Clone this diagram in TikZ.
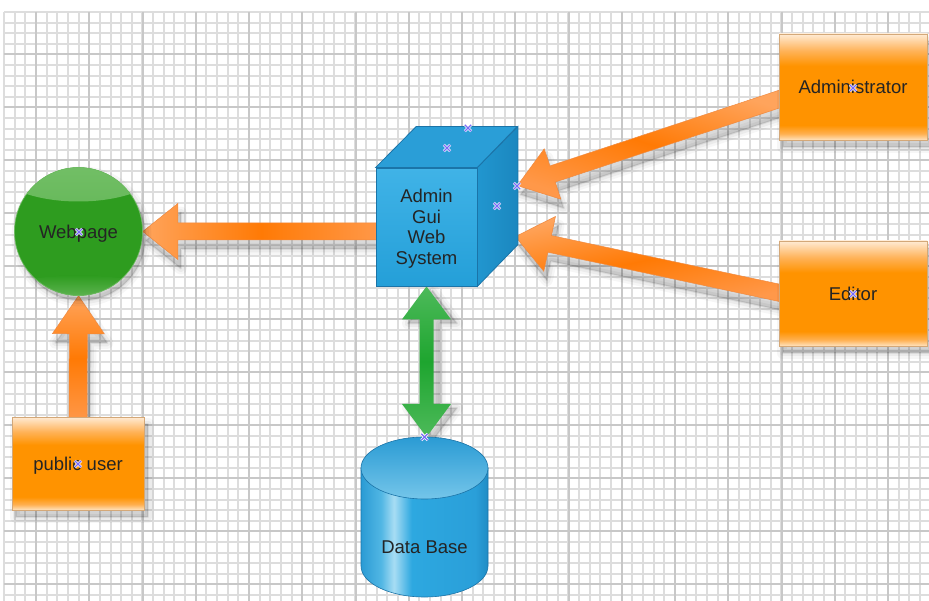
\documentclass[tikz,border=0pt]{standalone}
\usepackage{fontspec}
\setmainfont{Liberation Sans}
\usetikzlibrary{calc,shadows}

\definecolor{gridminor}{HTML}{DDDDDD}
\definecolor{gridmajor}{HTML}{C8C8C8}
\definecolor{ink}{HTML}{242424}
\definecolor{orA}{HTML}{FFA45C}
\definecolor{orB}{HTML}{FF7A05}
\definecolor{orC}{HTML}{FF9849}
\definecolor{orEdge}{HTML}{F08A40}
\definecolor{boxTop}{HTML}{FFEBD4}
\definecolor{boxTopB}{HTML}{FFB257}
\definecolor{boxMid}{HTML}{FF9300}
\definecolor{boxBot}{HTML}{FFE3C0}
\definecolor{boxBotB}{HTML}{FFB050}
\definecolor{boxEdge}{HTML}{D4A878}
\definecolor{webMain}{HTML}{2E9C1F}
\definecolor{webLight}{HTML}{7CC470}
\definecolor{webLightB}{HTML}{4FAC42}
\definecolor{webRim}{HTML}{6EBB62}
\definecolor{cubeFrontT}{HTML}{40B3E7}
\definecolor{cubeFrontB}{HTML}{249FD8}
\definecolor{cubeTop}{HTML}{2A9ED7}
\definecolor{cubeRightL}{HTML}{2196CF}
\definecolor{cubeRightR}{HTML}{1B87BF}
\definecolor{cubeEdge}{HTML}{1B74A8}
\definecolor{cylA}{HTML}{2A9BD4}
\definecolor{cylB}{HTML}{52B7E4}
\definecolor{cylL}{HTML}{A8DDF4}
\definecolor{cylC}{HTML}{2DA8E0}
\definecolor{cylD}{HTML}{2A9FD9}
\definecolor{cylE}{HTML}{1F8CC5}
\definecolor{grA}{HTML}{4DBA5A}
\definecolor{grB}{HTML}{1EA52F}
\definecolor{handleC}{HTML}{7A6CF5}

% orange role boxes: glossy bands at top and bottom
\pgfdeclareverticalshading{boxshade}{100bp}{color(0bp)=(boxBot); color(25bp)=(boxBot); color(28bp)=(boxBotB); color(32bp)=(boxMid); color(60bp)=(boxMid); color(67bp)=(boxTopB); color(75bp)=(boxTop); color(100bp)=(boxTop)}
% database body: light reflection band on the left
\pgfdeclarehorizontalshading{cylbody}{100bp}{color(0bp)=(cylA); color(25bp)=(cylA); color(33bp)=(cylB); color(38bp)=(cylL); color(45bp)=(cylC); color(70bp)=(cylD); color(75bp)=(cylE); color(100bp)=(cylE)}

\pgfdeclarelayer{gridlayer}
\pgfdeclarelayer{arrowlayer}
\pgfsetlayers{gridlayer,arrowlayer,main}

% block arrow: style, tail, tip, shaft half width, head half width, head length
\newcommand\fatarrow[6]{%
  \coordinate (fa-hb) at ($(#3)!#6!(#2)$);
  \path[#1] ($(#2)!#4!90:(#3)$) -- ($(fa-hb)!#4!90:(#3)$) -- ($(fa-hb)!#5!90:(#3)$) -- (#3)
    -- ($(fa-hb)!#5!-90:(#3)$) -- ($(fa-hb)!#4!-90:(#3)$) -- ($(#2)!#4!-90:(#3)$) -- cycle;}
% double-headed block arrow: style, tip A, tip B, shaft half width, head half width, head length
\newcommand\fatdarrow[6]{%
  \coordinate (fd-a) at ($(#2)!#6!(#3)$);
  \coordinate (fd-b) at ($(#3)!#6!(#2)$);
  \path[#1] (#2) -- ($(fd-a)!#5!90:(#3)$) -- ($(fd-a)!#4!90:(#3)$) -- ($(fd-b)!#4!90:(#3)$)
    -- ($(fd-b)!#5!90:(#3)$) -- (#3) -- ($(fd-b)!#5!-90:(#3)$) -- ($(fd-b)!#4!-90:(#3)$)
    -- ($(fd-a)!#4!-90:(#3)$) -- ($(fd-a)!#5!-90:(#3)$) -- cycle;}

\tikzset{
  % soft shadow built from stacked translucent copies
  softshadow/.style n args={2}{
    drop shadow={shadow xshift=#1, shadow yshift=#2, fill=black, draw=black, line width=12pt, line join=round, opacity=0.035},
    drop shadow={shadow xshift=#1, shadow yshift=#2, fill=black, draw=black, line width=7pt, line join=round, opacity=0.045},
    drop shadow={shadow xshift=#1, shadow yshift=#2, fill=black, draw=black, line width=2pt, line join=round, opacity=0.07}},
  txt/.style={font=\fontsize{18.5}{20.5}\selectfont, text=ink, text depth=0pt},
  rolebox/.style={softshadow={4pt}{-7pt}, txt, rectangle, shade, shading=boxshade, draw=boxEdge,
    line width=0.8pt, inner sep=0pt},
  orangearrow/.style={softshadow={3pt}{-9pt}, shade, draw=orEdge, line width=0.5pt},
  greenarrow/.style={softshadow={6pt}{-4pt}, shade, top color=grA, bottom color=grA, middle color=grB},
  gridline/.style={line width=1.6pt},
}

\begin{document}
\begin{tikzpicture}[x=1pt,y=-1pt]
\useasboundingbox (0,0) rectangle (929,601);

% paper with a fine grid, lines snapped to whole units
\begin{pgfonlayer}{gridlayer}
  \fill[white] (0,0) rectangle (929,601);
  \foreach \i in {0,...,86}
    \draw[gridline, gridminor] ({round(4.05+10.65*\i)},12) -- ({round(4.05+10.65*\i)},601);
  \foreach \j in {0,...,55}
    \draw[gridline, gridminor] (4,{round(11.9+10.6*\j)}) -- (929,{round(11.9+10.6*\j)});
  \foreach \i in {0,...,16}
    \draw[gridline, gridmajor] ({round(36+53.25*\i)},12) -- ({round(36+53.25*\i)},601);
  \foreach \j in {0,...,10}
    \draw[gridline, gridmajor] (4,{round(54.3+53*\j)}) -- (929,{round(54.3+53*\j)});
\end{pgfonlayer}

% actors
\node[rolebox, minimum width=148, minimum height=106] (admin) at (853,87) {Administrator};
\node[rolebox, minimum width=148, minimum height=105] (editor) at (853,293.5) {Editor};
\node[rolebox, minimum width=132, minimum height=93] (pub) at (78,463.5) {public user};

% web page globe
\node[softshadow={3pt}{-5pt}, txt, circle, minimum size=128, inner sep=0pt, fill=webMain,
  draw=webRim, line width=0.6pt,
  path picture={
    \fill[top color=webLight, bottom color=webLightB]
      ($(path picture bounding box.north)+(0,-2)$) ellipse [x radius=85, y radius=36];
    \fill[top color=webMain, bottom color=webRim]
      ($(path picture bounding box.south)+(0,-6)$) ellipse [x radius=70, y radius=14];
  }] (web) at (78.5,231.5) {Webpage};

% system cube
\node[txt, rectangle, shade, top color=cubeFrontT, bottom color=cubeFrontB, draw=cubeEdge,
  line width=0.8pt, minimum width=101, minimum height=118, inner sep=0pt, align=center]
  (cube) at (426.5,227) {Admin\\Gui\\Web\\System};
\path[fill=cubeTop, draw=cubeEdge, line width=0.8pt]
  (cube.north west) -- ++(40.5,-41) -- ++(101,0) -- (cube.north east) -- cycle;
\path[shade, left color=cubeRightL, right color=cubeRightR, draw=cubeEdge, line width=0.8pt]
  (cube.north east) -- ++(40.5,-41) -- ++(0,118) -- (cube.south east) -- cycle;

% database cylinder
\coordinate (dbc) at (424.5,468);
\coordinate (dbtop) at ($(dbc)+(2,-31)$);
\path[shade, shading=cylbody, draw=cubeEdge, line width=0.6pt]
  (361,468) -- (361,566) arc[start angle=180, end angle=0, x radius=63.5, y radius=31] -- (488,468) -- cycle;
\path[shade, top color=cylA, bottom color=cylB!80!white, draw=cubeEdge, line width=0.6pt]
  (dbc) ellipse [x radius=63.5, y radius=31];
\node[txt] (dblabel) at (424.5,547) {Data Base};

% connectors
\begin{pgfonlayer}{arrowlayer}
  \coordinate (cubeTail) at ($(cube.west)+(4,4.5)$);
  \coordinate (adminTail) at ($(admin.west)+(4,11)$);
  \coordinate (adminTip) at ($(cube.north east)+(40,18)$);
  \coordinate (editorTail) at ($(editor.west)+(4,0)$);
  \coordinate (editorTip) at ($(cube.north east)+(38,69)$);
  \coordinate (pubTail) at ($(pub.north)+(0,4)$);
  \fatarrow{orangearrow, left color=orA, right color=orC, middle color=orB}{cubeTail}{web.east}{8.5pt}{28pt}{35pt}
  \fatarrow{orangearrow, left color=orA, right color=orC, middle color=orB, shading angle=-18}{adminTail}{adminTip}{8.5pt}{26.5pt}{37pt}
  \fatarrow{orangearrow, left color=orA, right color=orC, middle color=orB, shading angle=12}{editorTail}{editorTip}{8.5pt}{28pt}{35pt}
  \fatarrow{orangearrow, top color=orA, bottom color=orC, middle color=orB}{pubTail}{web.south}{9pt}{26pt}{38pt}
  \fatdarrow{greenarrow}{cube.south}{dbtop}{7pt}{24.5pt}{33pt}
\end{pgfonlayer}

% selection handles
\foreach \p in {(468,128),(447,148),(517,186),(497,206),(79,232),(78,464),(853,88),(853,294),(424.5,437)} {
  \draw[white, line width=2.6pt] \p +(-3.2,-3.2) -- +(3.2,3.2) \p +(-3.2,3.2) -- +(3.2,-3.2);
  \draw[handleC, line width=1.3pt] \p +(-3.2,-3.2) -- +(3.2,3.2) \p +(-3.2,3.2) -- +(3.2,-3.2);
}
\end{tikzpicture}
\end{document}
